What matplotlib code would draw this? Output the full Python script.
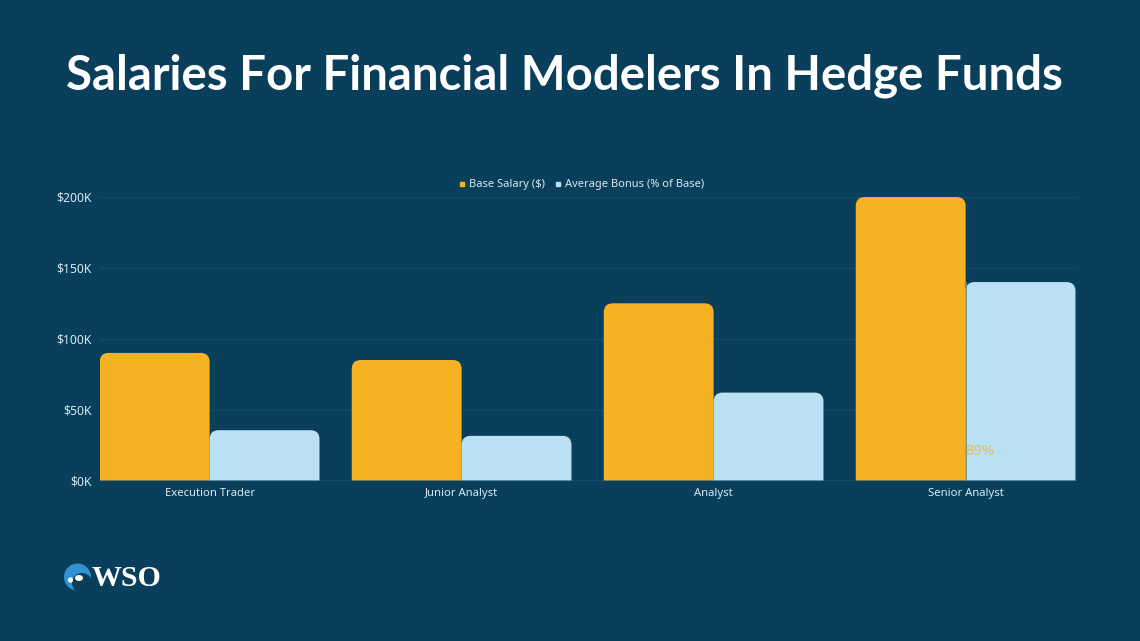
import matplotlib
matplotlib.use("Agg")
import matplotlib.pyplot as plt
import matplotlib.patches as mpatches
from matplotlib.lines import Line2D
from matplotlib.path import Path

# ────── Data ──────

categories = ["Execution Trader", "Junior Analyst", "Analyst", "Senior Analyst"]
base_salary = [90000, 85000, 125000, 200000]
avg_bonus = [35500, 31500, 62000, 140000]
y_ticks = [0, 50000, 100000, 150000, 200000]
y_labels = ["$0K", "$50K", "$100K", "$150K", "$200K"]

# ────── Colors ──────

COLOR_BG = "#0A3F5C"
COLOR_BASE = "#F6B125"
COLOR_BONUS = "#B9E0F3"
COLOR_GRID = "#144A67"
COLOR_TEXT = "#D5EAF5"

W, H = 1140, 641
BAR_W = 0.436


def rounded_bar(ax, left, width, height, color):
    # top corners rounded, about 9 px on screen
    rx = 9 / 252
    ry = 9 / 283 * 200000
    verts = [
        (left, 0), (left, height - ry), (left, height), (left + rx, height),
        (left + width - rx, height), (left + width, height),
        (left + width, height - ry), (left + width, 0), (left, 0),
    ]
    codes = [Path.MOVETO, Path.LINETO, Path.CURVE3, Path.CURVE3,
             Path.LINETO, Path.CURVE3, Path.CURVE3, Path.LINETO, Path.CLOSEPOLY]
    ax.add_patch(mpatches.PathPatch(Path(verts, codes), facecolor=color,
                                    edgecolor="none", zorder=3))


fig = plt.figure(figsize=(W / 100, H / 100), dpi=100)
fig.patch.set_facecolor(COLOR_BG)
plt.rcParams["font.family"] = ["Noto Sans", "DejaVu Sans"]

ax = fig.add_axes([99.5 / W, 1 - 480.5 / H, 977 / W, 283.5 / H])
ax.set_facecolor(COLOR_BG)
ax.set_xlim(-0.437, 3.44)
ax.set_ylim(0, 200000)

for i in range(len(categories)):
    rounded_bar(ax, i - BAR_W, BAR_W, base_salary[i], COLOR_BASE)
    rounded_bar(ax, i, BAR_W, avg_bonus[i], COLOR_BONUS)

ax.set_xticks(range(len(categories)))
ax.set_xticklabels(categories, fontsize=8.1, color=COLOR_TEXT)
ax.set_yticks(y_ticks)
ax.set_yticklabels(y_labels, fontsize=8.8, color=COLOR_TEXT)
ax.tick_params(length=0)
ax.tick_params(axis="y", pad=5.5)
ax.tick_params(axis="x", pad=5.5)
ax.grid(axis="y", color=COLOR_GRID, lw=0.9, zorder=1)
ax.set_axisbelow(True)
for name, spine in ax.spines.items():
    spine.set_visible(False)
ax.axhline(0, color="#4A7C96", lw=1, zorder=4)
ax.plot([3.0, 3.0], [0, 140000], color="#6E8F7A", lw=0.6, zorder=4)

# stray value label from the original
ax.text(3.0, 20500, "89%", ha="left", va="center", fontsize=10.5,
        color="#E3BE6A", zorder=5)

ax.legend(
    handles=[
        Line2D([], [], ls="none", marker="s", ms=3.2, color=COLOR_BASE,
               label="Base Salary ($)"),
        Line2D([], [], ls="none", marker="s", ms=3.2, color=COLOR_BONUS,
               label="Average Bonus (% of Base)"),
    ],
    loc="center", bbox_to_anchor=(577.5 / W, 1 - 185 / H),
    bbox_transform=fig.transFigure, ncol=2, frameon=False, fontsize=8,
    labelcolor=COLOR_TEXT, handletextpad=-0.4, columnspacing=0.2,
)

fig.text(564 / W, 1 - 76 / H, "Salaries For Financial Modelers In Hedge Funds",
         ha="center", va="center", fontsize=34.1, fontweight="bold",
         family="Lato", color="#FFFFFF")

# ────── Logo ──────

logo = fig.add_axes([0, 0, 1, 1], facecolor="none")
logo.set_xlim(0, W)
logo.set_ylim(H, 0)
logo.axis("off")
logo.add_patch(mpatches.Circle((77.5, 577), 13.5, color="#2F93D3", lw=0))
logo.add_patch(mpatches.Circle((82, 583), 10, color=COLOR_BG, lw=0))
logo.add_patch(mpatches.Ellipse((79, 578), 8, 6, color="#FFFFFF", lw=0))
logo.add_patch(mpatches.Circle((70.5, 580), 2.6, color="#FFFFFF", lw=0))
logo.text(126.5, 578.5, "WSO", ha="center", va="center", fontsize=21.5,
          fontweight="bold", family="Liberation Serif", color="#FFFFFF")

fig.savefig("out.png", dpi=100, facecolor=COLOR_BG)
